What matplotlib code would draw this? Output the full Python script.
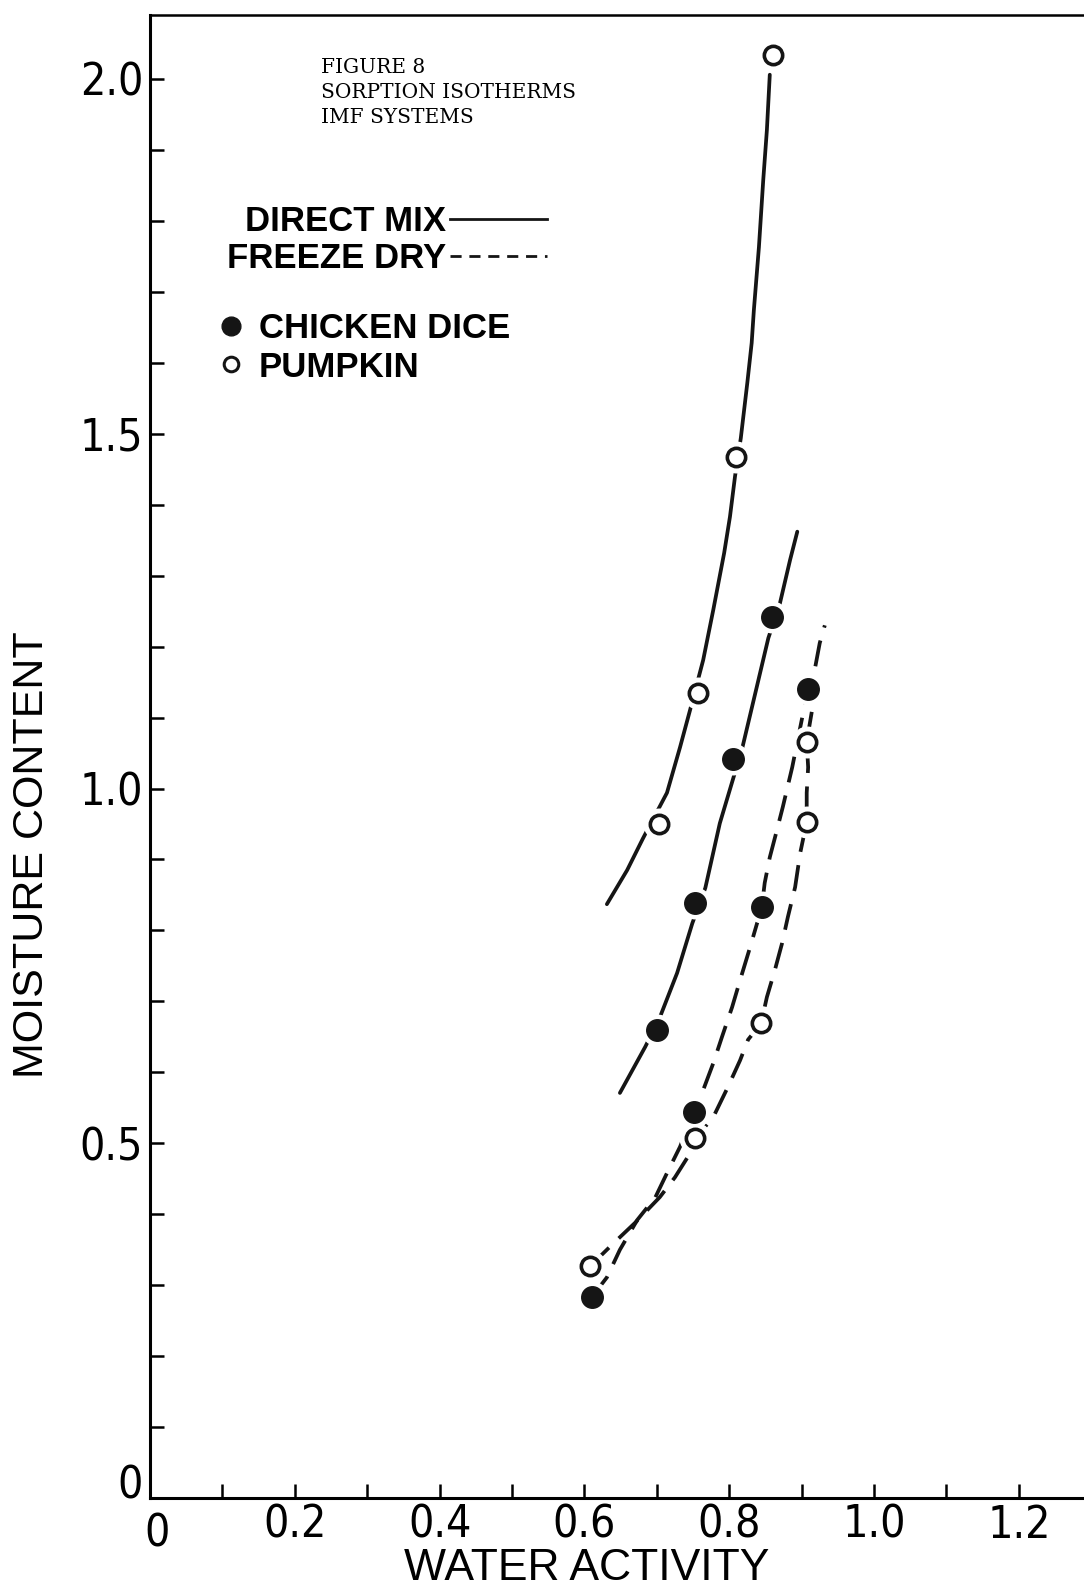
import matplotlib
matplotlib.use('Agg')
import matplotlib.pyplot as plt
from matplotlib import font_manager
from matplotlib.lines import Line2D


def pick_font(*names):
    have = {f.name for f in font_manager.fontManager.ttflist}
    for n in names:
        if n in have:
            return n
    return 'DejaVu Sans'


SANS = pick_font('Liberation Sans', 'DejaVu Sans')
SERIF = pick_font('DejaVu Serif', 'Liberation Serif')
# a condensed face suits the lettering-guide digits best, if one is installed
condensed = [f for f in font_manager.fontManager.ttflist
             if f.name == 'DejaVu Sans' and f.stretch == 'condensed' and f.weight == 400]
if condensed:
    TICK_FONT = {'family': 'DejaVu Sans', 'stretch': 'condensed', 'size': 32}
else:
    TICK_FONT = {'family': SANS, 'size': 31}

# measured points (water activity, moisture content)
chicken_dm_aw = [0.700, 0.753, 0.805, 0.859]
chicken_dm_mc = [0.660, 0.839, 1.042, 1.242]
pumpkin_dm_aw = [0.703, 0.757, 0.810, 0.860]
pumpkin_dm_mc = [0.950, 1.135, 1.467, 2.034]
chicken_fd_aw = [0.610, 0.751, 0.845, 0.909]
chicken_fd_mc = [0.283, 0.544, 0.833, 1.140]
pumpkin_fd_aw = [0.608, 0.753, 0.844, 0.907, 0.907]
pumpkin_fd_mc = [0.327, 0.507, 0.669, 0.953, 1.066]

# hand drawn curves
pumpkin_dm_curve_aw = [0.631, 0.659, 0.681, 0.698, 0.714, 0.732, 0.746, 0.764, 0.778, 0.793,
                       0.801, 0.808, 0.812, 0.816, 0.825, 0.831, 0.834, 0.841, 0.847, 0.852, 0.856]
pumpkin_dm_curve_mc = [0.837, 0.885, 0.930, 0.963, 0.994, 1.058, 1.111, 1.181, 1.252, 1.332,
                       1.383, 1.440, 1.467, 1.494, 1.572, 1.628, 1.674, 1.763, 1.858, 1.928, 2.006]
chicken_dm_curve_aw = [0.649, 0.684, 0.704, 0.728, 0.749, 0.767, 0.787, 0.818, 0.838, 0.854,
                       0.870, 0.884, 0.894]
chicken_dm_curve_mc = [0.571, 0.636, 0.677, 0.740, 0.810, 0.860, 0.951, 1.057, 1.143, 1.212,
                       1.261, 1.322, 1.362]
chicken_fd_curve_aw = [0.610, 0.631, 0.649, 0.673, 0.698, 0.714, 0.732, 0.751, 0.764, 0.778,
                       0.790, 0.804, 0.815, 0.829, 0.845, 0.849, 0.856, 0.866, 0.874, 0.887,
                       0.901, 0.909, 0.918, 0.925, 0.932]
chicken_fd_curve_mc = [0.283, 0.311, 0.350, 0.392, 0.424, 0.458, 0.495, 0.544, 0.575, 0.613,
                       0.650, 0.692, 0.730, 0.777, 0.833, 0.867, 0.903, 0.942, 0.974, 1.030,
                       1.101, 1.140, 1.167, 1.205, 1.230]
pumpkin_fd_curve_aw = [0.608, 0.638, 0.670, 0.704, 0.725, 0.746, 0.753, 0.778, 0.798, 0.815,
                       0.826, 0.844, 0.852, 0.863, 0.873, 0.881, 0.891, 0.898, 0.907, 0.907,
                       0.909, 0.907, 0.914]
pumpkin_fd_curve_mc = [0.327, 0.357, 0.388, 0.424, 0.452, 0.486, 0.507, 0.537, 0.579, 0.617,
                       0.646, 0.669, 0.706, 0.744, 0.782, 0.819, 0.861, 0.909, 0.953, 0.994,
                       1.030, 1.066, 1.108]

x_ticks = [0.2, 0.4, 0.6, 0.8, 1.0, 1.2]
x_labels = ['0.2', '0.4', '0.6', '0.8', '1.0', '1.2']
y_ticks = [0, 0.5, 1.0, 1.5, 2.0]
y_labels = ['0', '0.5', '1.0', '1.5', '2.0']

fig = plt.figure(figsize=(10.84, 15.92), dpi=100)
ax = fig.add_axes([0.1384, 0.0590, 0.8616, 0.9315])
ax.set_xlim(0, 1.290)
ax.set_ylim(0, 2.090)

dash = (0, (7, 3.6))
lw = 2.7
ink = '#151515'

ax.plot(pumpkin_dm_curve_aw, pumpkin_dm_curve_mc, color=ink, lw=lw, zorder=2, solid_capstyle='round')
ax.plot(chicken_dm_curve_aw, chicken_dm_curve_mc, color=ink, lw=lw, zorder=2, solid_capstyle='round')
ax.plot(chicken_fd_curve_aw, chicken_fd_curve_mc, color=ink, lw=lw, ls=dash, zorder=2)
ax.plot(pumpkin_fd_curve_aw, pumpkin_fd_curve_mc, color=ink, lw=lw, ls=dash, zorder=2)

# white gaps around the symbols, as in the inked original
for xs, ys in [(chicken_dm_aw, chicken_dm_mc), (pumpkin_dm_aw, pumpkin_dm_mc),
               (chicken_fd_aw, chicken_fd_mc), (pumpkin_fd_aw, pumpkin_fd_mc)]:
    ax.plot(xs, ys, ls='none', marker='o', ms=22, mfc='white', mec='white', zorder=3)

for xs, ys in [(chicken_dm_aw, chicken_dm_mc), (chicken_fd_aw, chicken_fd_mc)]:
    ax.plot(xs, ys, ls='none', marker='o', ms=15.5, mfc=ink, mec=ink, zorder=4)
for xs, ys in [(pumpkin_dm_aw, pumpkin_dm_mc), (pumpkin_fd_aw, pumpkin_fd_mc)]:
    ax.plot(xs, ys, ls='none', marker='o', ms=13.2, mfc='white', mec=ink, mew=2.6, zorder=4)

# axes styling
ax.spines['right'].set_visible(False)
ax.spines['left'].set_linewidth(2.2)
ax.spines['bottom'].set_linewidth(2.2)
ax.spines['top'].set_linewidth(1.8)
ax.set_xticks(x_ticks)
ax.set_xticklabels(x_labels)
ax.set_yticks(y_ticks)
ax.set_yticklabels(y_labels)
ax.set_xticks([0.1, 0.3, 0.5, 0.7, 0.9, 1.1], minor=True)
ax.set_yticks([0.1, 0.2, 0.3, 0.4, 0.6, 0.7, 0.8, 0.9, 1.1, 1.2, 1.3, 1.4, 1.6, 1.7, 1.8, 1.9], minor=True)
ax.tick_params(which='both', direction='in', length=10, width=1.8, top=False, right=False)
ax.tick_params(axis='y', which='major', pad=5)
ax.tick_params(axis='x', which='major', pad=4)
for t in ax.get_xticklabels() + ax.get_yticklabels():
    t.set_fontproperties(font_manager.FontProperties(**TICK_FONT))

# the y "0" label sits a little above the axis line in the original
ax.get_yticklabels()[0].set_verticalalignment('baseline')

# the "0" label under the origin
ax.text(0.008, -0.010, '0', transform=ax.transAxes, ha='center', va='top',
        fontproperties=font_manager.FontProperties(**TICK_FONT))

ax.set_xlabel('WATER ACTIVITY', fontfamily=SANS, fontsize=32)
ax.xaxis.set_label_coords(0.467, -0.034)
ax.set_ylabel('MOISTURE CONTENT', fontfamily=SANS, fontsize=31)
ax.yaxis.set_label_coords(-0.105, 0.4336)

ax.text(0.183, 0.971, 'FIGURE 8\nSORPTION ISOTHERMS\nIMF SYSTEMS', transform=ax.transAxes,
        ha='left', va='top', fontfamily=SERIF, fontsize=14.5, linespacing=1.38)

leg1 = ax.legend(handles=[Line2D([], [], color=ink, lw=2.0),
                          Line2D([], [], color=ink, lw=2.0, ls=(0, (4, 2.8)))],
                 labels=['DIRECT MIX', 'FREEZE DRY'], markerfirst=False, frameon=False,
                 loc='upper left', bbox_to_anchor=(0.0824, 0.872), borderpad=0, borderaxespad=0,
                 handlelength=2.8, handletextpad=0.1, labelspacing=0.12,
                 prop={'family': SANS, 'weight': 'bold', 'size': 25})
ax.add_artist(leg1)
ax.legend(handles=[Line2D([], [], ls='none', marker='o', ms=13.5, mfc=ink, mec=ink),
                   Line2D([], [], ls='none', marker='o', ms=10.5, mfc='white', mec=ink, mew=2.2)],
          labels=['CHICKEN DICE', 'PUMPKIN'], frameon=False,
          loc='upper left', bbox_to_anchor=(0.068, 0.800), borderpad=0, borderaxespad=0,
          handlelength=1.0, handletextpad=0.3, labelspacing=0.17,
          prop={'family': SANS, 'weight': 'bold', 'size': 25})

fig.savefig('out.png', dpi=100)
